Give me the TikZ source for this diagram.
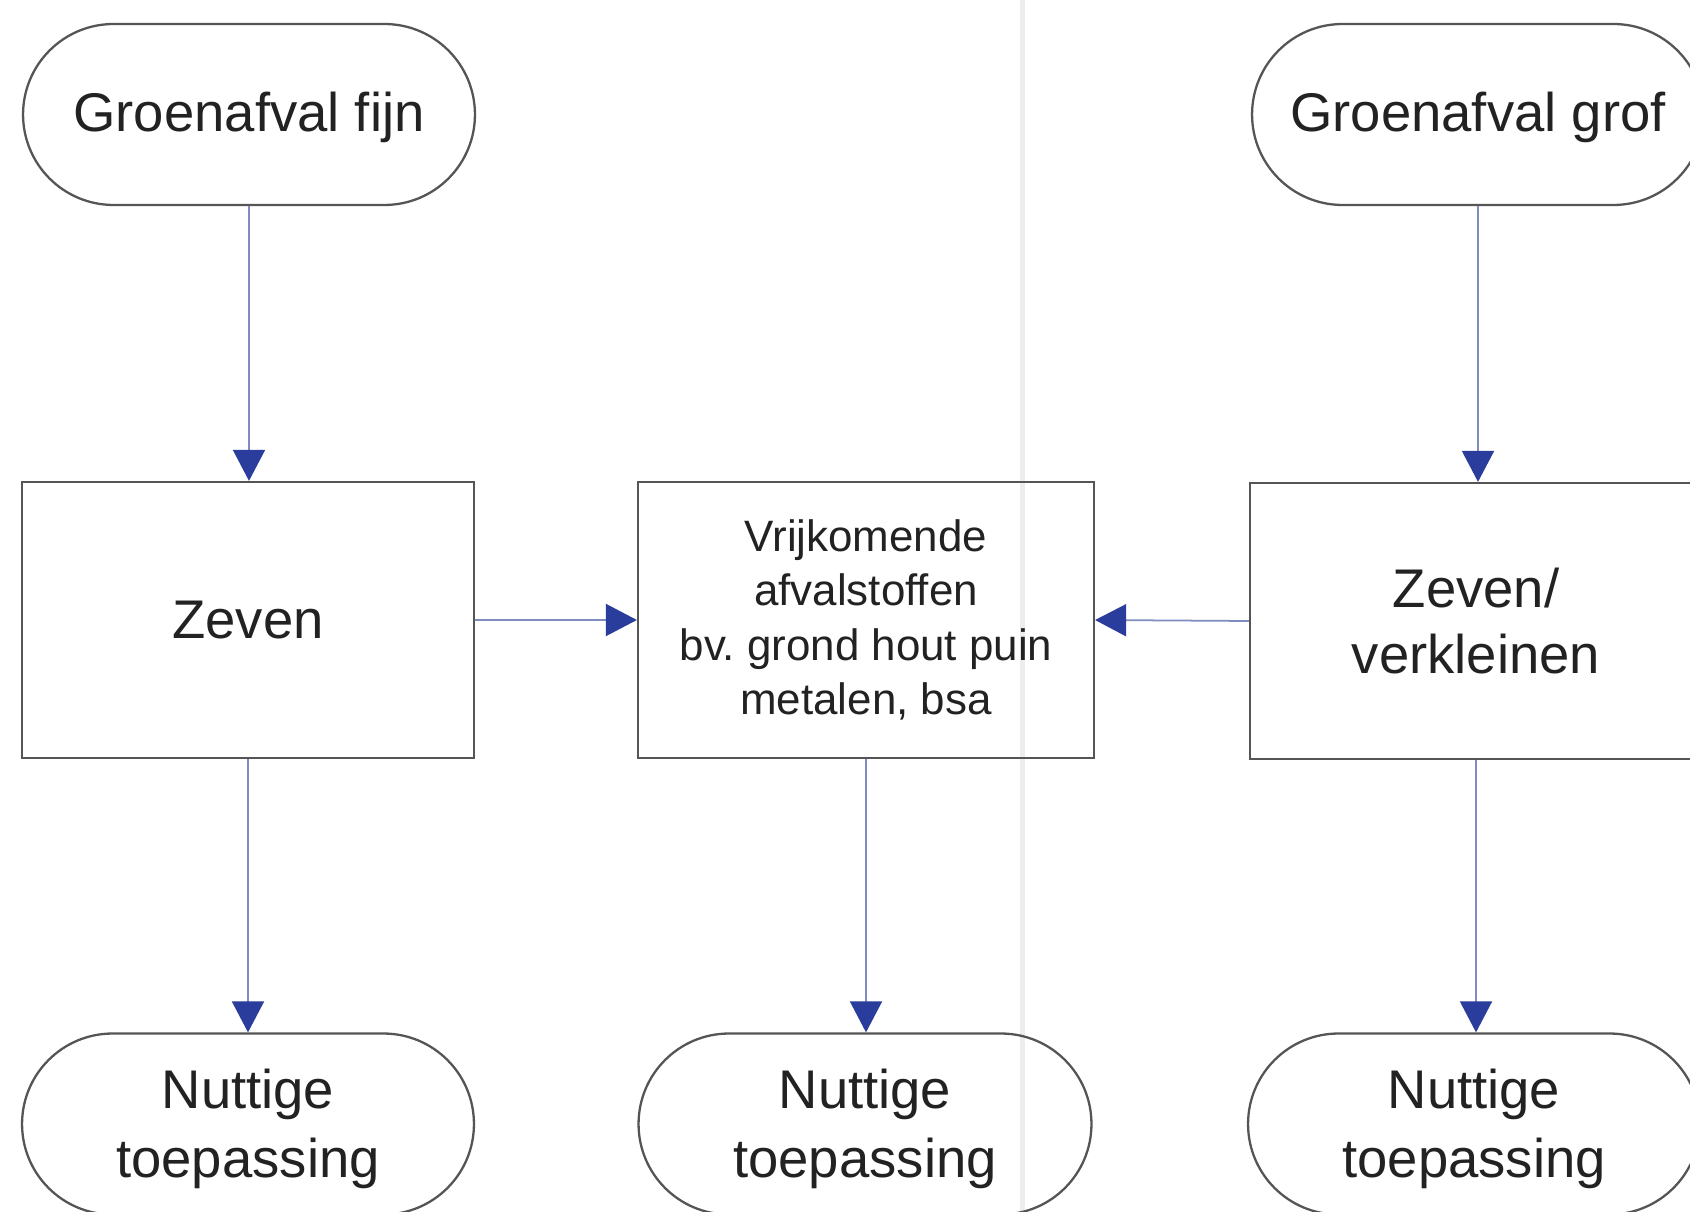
\documentclass[tikz,border=0pt]{standalone}
\usepackage{fontspec}
\setmainfont{Liberation Sans}
\usetikzlibrary{shapes.misc,arrows.meta}
\definecolor{tipblue}{HTML}{2B3D9C}
\definecolor{shaftblue}{HTML}{7F8CC0}
\definecolor{edgegray}{HTML}{555555}
\definecolor{txt}{HTML}{222222}
\definecolor{fold}{HTML}{EDEDED}
\frenchspacing
\newcommand{\nutlabel}{\begin{tabular}{@{}c@{}}\rule{0pt}{33pt}Nuttige\\[0.5pt]toepassing\end{tabular}}
\tikzset{
  stadium/.style={rounded rectangle, draw=edgegray, line width=1.3pt, minimum width=9.04cm, minimum height=3.62cm, inner sep=0pt, align=center, text=txt, font=\fontsize{31}{38.7}\selectfont},
  procbox/.style={rectangle, draw=edgegray, line width=1.3pt, minimum width=9.04cm, minimum height=5.52cm, inner sep=0pt, align=center, text=txt, font=\fontsize{31}{37.5}\selectfont},
  flow/.style={draw=shaftblue, line width=1pt, -{Triangle[width=0.64cm,length=0.62cm,fill=tipblue,color=tipblue]}},
}
\begin{document}
\begin{tikzpicture}[x=0.02cm,y=-0.02cm]
\fill[white] (0,0) rectangle (1690,1212);
\clip (0,0) rectangle (1690,1212);
\draw[fold, line width=0.1cm] (1022,0) -- (1022,1212);
\node[stadium] (gf) at (249,114.5) {\rule{0pt}{26pt}Groenafval fijn};
\node[stadium] (gg) at (1478,114.5) {\rule{0pt}{26pt}Groenafval grof};
\node[procbox] (zv) at (248,620) {Zeven};
\node[procbox, minimum width=9.12cm, font=\fontsize{25}{31}\selectfont] (vr) at (866,620) {Vrijkomende\\afvalstoffen\\bv. grond hout puin\\metalen, bsa};
\node[procbox] (zk) at (1476,621) {Zeven/\\verkleinen};
\node[stadium] (n1) at (248,1124) {\nutlabel};
\node[stadium, minimum width=9.06cm] (n2) at (865,1124) {\nutlabel};
\node[stadium] (n3) at (1474,1124) {\nutlabel};
\draw[flow] (gf.south) -- (gf.south |- zv.north);
\draw[flow] (zv.south) -- (zv.south |- n1.north);
\draw[flow] (zv.east) -- (vr.west);
\draw[flow] (zk.west) -- (vr.east);
\draw[flow] (vr.south) -- (vr.south |- n2.north);
\draw[flow] (gg.south) -- (gg.south |- zk.north);
\draw[flow] (zk.south) -- (zk.south |- n3.north);
\end{tikzpicture}
\end{document}
